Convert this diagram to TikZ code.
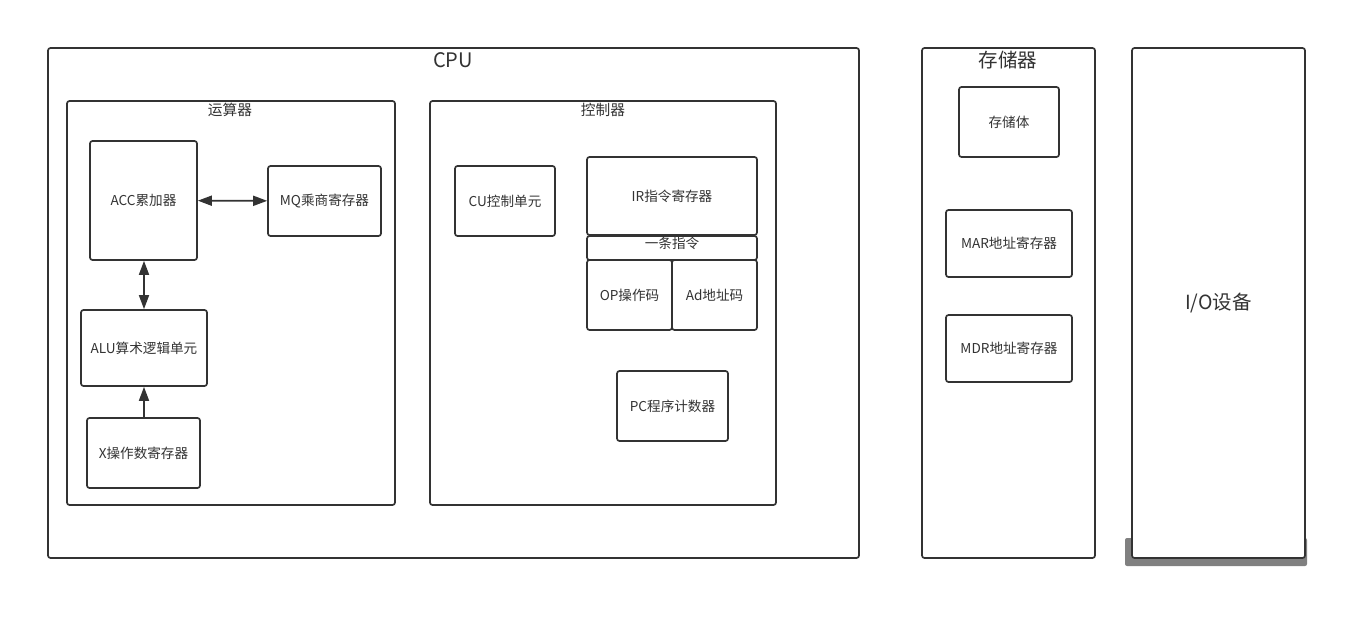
\documentclass[tikz,border=0pt]{standalone}
\usepackage{fontspec}
\setmainfont{Noto Sans CJK SC}
\usetikzlibrary{arrows.meta}
\definecolor{linegray}{HTML}{333333}
\definecolor{shadowgray}{HTML}{808080}
\tikzset{unit/.style = {draw=linegray, line width=1.7pt, rounded corners=2.5pt,
    fill=white, inner sep=0pt, text=linegray, font=\fontsize{13.6}{15}\selectfont}}
\tikzset{frame/.style = {unit, font=\fontsize{14.7}{16}\selectfont}}
\tikzset{caption/.style = {text=linegray, inner sep=0pt}}
\tikzset{flow/.style = {draw=linegray, line width=1.7pt,
    -{Triangle[length=14pt,width=10pt]}}}
\tikzset{dflow/.style = {flow, {Triangle[length=14pt,width=10pt]}-{Triangle[length=14pt,width=10pt]}}}

\begin{document}
\begin{tikzpicture}[x=1pt,y=-1pt]
      \useasboundingbox (0,0) rectangle (1367,620);

      % outer frames
      \node[frame, minimum width=811, minimum height=510] (cpu) at (453.5,303) {};
      \node[caption, font=\fontsize{20}{22}\selectfont] (cputitle) at (453,60) {CPU};

      \node[frame, minimum width=173, minimum height=510] (mem) at (1008.5,303) {};
      \node[caption, font=\fontsize{19.5}{22}\selectfont] (memtitle) at (1008,60) {存储器};

      \node[fill=shadowgray, rounded corners=2pt, minimum width=182,
        minimum height=28, inner sep=0pt] (ioshadow) at (1216,552) {};
      \node[frame, minimum width=173, minimum height=510,
        font=\fontsize{19.5}{22}\selectfont] (io) at (1218.5,303) {I/O设备};

      % arithmetic unit
      \node[frame, minimum width=328, minimum height=404] (alupart) at (231,303) {};
      \node[caption, font=\fontsize{14.7}{16}\selectfont] (alutitle) at (230,110) {运算器};
      \node[unit, minimum width=107, minimum height=119] (acc) at (143.5,200.5) {ACC累加器};
      \node[unit, minimum width=113, minimum height=70] (mq) at (324.5,201) {MQ乘商寄存器};
      \node[unit, minimum width=126, minimum height=76] (alu) at (144,348) {ALU算术逻辑单元};
      \node[unit, minimum width=113, minimum height=70] (xreg) at (143.5,453) {X操作数寄存器};

      % control unit
      \node[frame, minimum width=346, minimum height=404] (ctlpart) at (603,303) {};
      \node[caption, font=\fontsize{14.7}{16}\selectfont] (ctltitle) at (603,110) {控制器};
      \node[unit, minimum width=100, minimum height=70] (cu) at (505,201) {CU控制单元};
      \node[unit, minimum width=170, minimum height=78] (ir) at (672,196) {IR指令寄存器};
      \node[unit, minimum width=170, minimum height=24,
        label={[caption, font=\fontsize{13.6}{15}\selectfont, yshift=5pt]center:一条指令}]
        (instr) at (672,248) {};
      \node[unit, minimum width=85, minimum height=70] (op) at (629.5,295) {OP操作码};
      \node[unit, minimum width=85, minimum height=70] (ad) at (714.5,295) {Ad地址码};
      \node[unit, minimum width=111, minimum height=70] (pc) at (672.5,406) {PC程序计数器};

      % memory
      \node[unit, minimum width=100, minimum height=70] (store) at (1009,122) {存储体};
      \node[unit, minimum width=126, minimum height=67] (mar) at (1009,243.5) {MAR地址寄存器};
      \node[unit, minimum width=126, minimum height=67] (mdr) at (1009,348.5) {MDR地址寄存器};

      \draw[dflow] (acc) -- (mq);
      \draw[dflow] (acc.south -| alu.north) -- (alu.north);
      \draw[flow] (xreg.north -| alu.south) -- (alu.south);
\end{tikzpicture}
\end{document}
